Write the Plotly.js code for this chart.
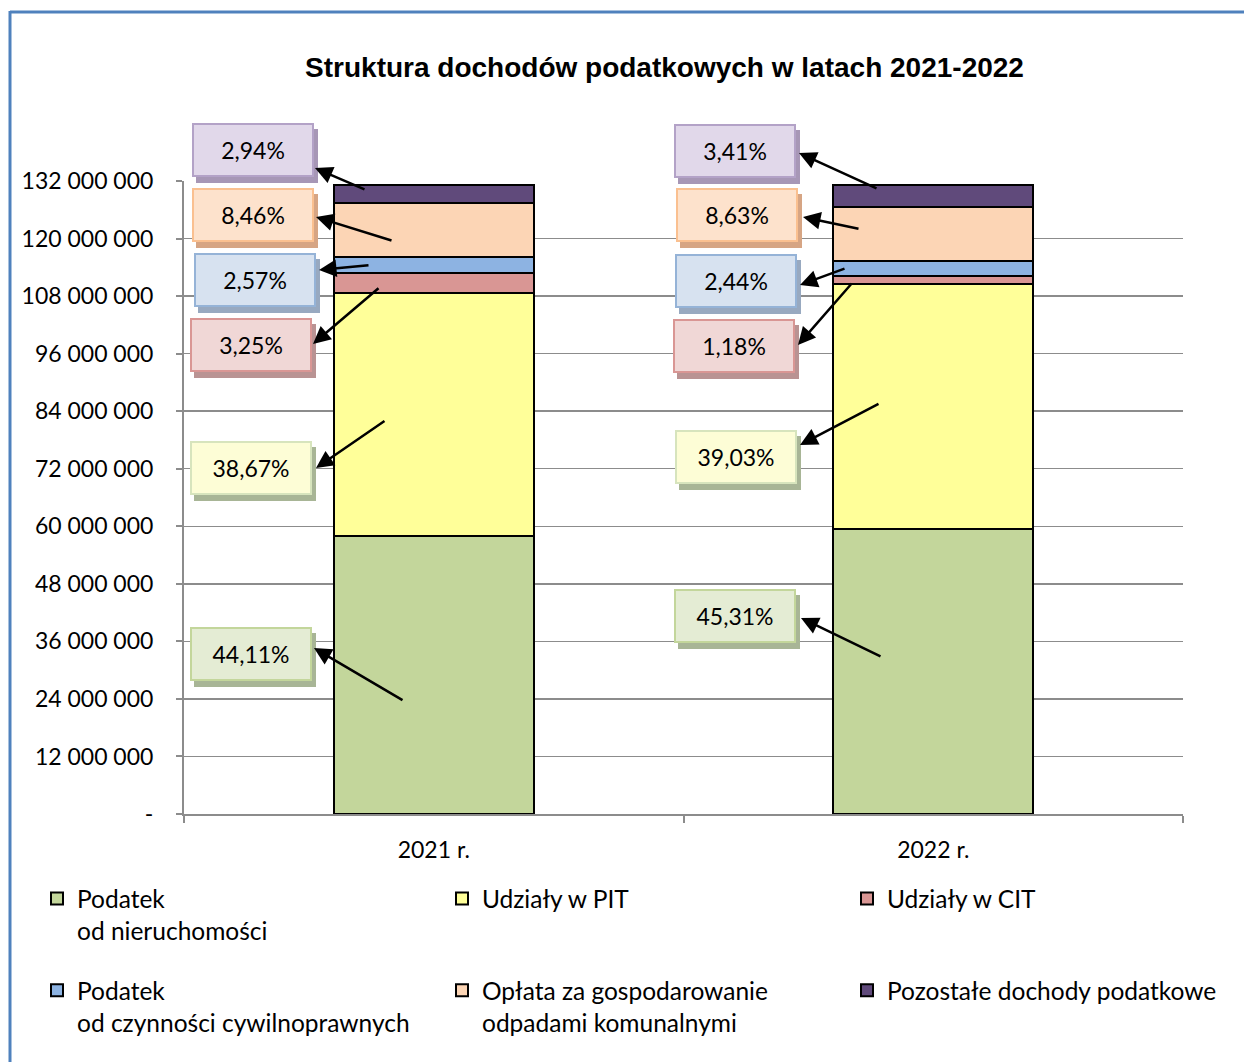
<!DOCTYPE html>
<html>
<head>
<meta charset="utf-8">
<script src="https://cdn.plot.ly/plotly-3.0.1.min.js"></script>
<style>html,body{margin:0;padding:0;background:#fff;}#chart{width:1244px;height:1062px;}</style>
</head>
<body>
<div id="chart"></div>
<script>
// ---- data ----
const categories = ['2021 r.', '2022 r.'];
const seriesNames = [
  'Podatek<br>od nieruchomości',
  'Udziały w PIT',
  'Udziały w CIT',
  'Podatek<br>od czynności cywilnoprawnych',
  'Opłata za gospodarowanie<br>odpadami komunalnymi',
  'Pozostałe dochody podatkowe'
];
const podatekNieruchomosci = [57870000, 59400000];
const udzialyPIT = [50730000, 51170000];
const udzialyCIT = [4265000, 1547000];
const podatekCzynnosci = [3372000, 3199000];
const oplataOdpady = [11100000, 11314000];
const pozostale = [3857000, 4470000];
const pct2021 = ['44,11%', '38,67%', '3,25%', '2,57%', '8,46%', '2,94%'];
const pct2022 = ['45,31%', '39,03%', '1,18%', '2,44%', '8,63%', '3,41%'];
const yTickVals = [0, 12000000, 24000000, 36000000, 48000000, 60000000, 72000000, 84000000, 96000000, 108000000, 120000000, 132000000];
const yTickText = ['-', '12 000 000', '24 000 000', '36 000 000', '48 000 000', '60 000 000', '72 000 000', '84 000 000', '96 000 000', '108 000 000', '120 000 000', '132 000 000'];

// ---- styles ----
const barColors = ['#C3D69B', '#FFFF99', '#D99694', '#8DB3E2', '#FCD5B5', '#604A7B'];
const boxFill = ['#E4ECD4', '#FDFDD6', '#F0D7D6', '#D7E2F0', '#FDE2CC', '#E1D8EA'];
const boxBorder = ['#C3D69B', '#D7E4BD', '#D99694', '#95B3D7', '#FAC090', '#B3A2C7'];
const boxShadow = ['#A8B596', '#A8B596', '#B99393', '#98A9C0', '#D6A584', '#A797B6'];
const legendOf = ['legend', 'legend2', 'legend3', 'legend', 'legend2', 'legend3'];

const allSeries = [podatekNieruchomosci, udzialyPIT, udzialyCIT, podatekCzynnosci, oplataOdpady, pozostale];
const FONT = 'Lato, "Open Sans", sans-serif';

const traces = allSeries.map((vals, i) => ({
  type: 'bar',
  name: seriesNames[i],
  x: categories,
  y: vals,
  legend: legendOf[i],
  legendgroup: 'g' + i,
  marker: {color: barColors[i], line: {color: '#000000', width: 2}},
  hoverinfo: 'none'
}));

// pixel -> paper helpers (plot area: x 184..1183, y 181..814)
const L = 184, R = 1183, T = 181, B = 814;
const px = x => (x - L) / (R - L);
const py = y => (B - y) / (B - T);

// label boxes: [centerX, centerY] per series
const boxPos2021 = [[251, 654], [251, 468], [251, 345], [255, 280], [253, 215], [253, 150]];
const boxPos2022 = [[735, 616], [736, 457], [734, 346], [736, 281], [737, 215], [735, 151]];
// arrows: [tailX, tailY, headX, headY]
const arr2021 = [[404, 701, 314, 648], [386, 420, 316, 468], [380, 287, 313, 344], [370, 265, 319, 270], [393, 241, 316, 217], [366, 190, 315, 168]];
const arr2022 = [[882, 657, 801, 618], [880, 403, 800, 445], [853, 282, 798, 345], [846, 268, 800, 285], [860, 229, 803, 217], [878, 189, 799, 153]];

const BW = 122, BH = 54;
const shapes = [];
const annotations = [];

function addBox(cx, cy, txt, i) {
  shapes.push({
    type: 'rect', xref: 'paper', yref: 'paper', layer: 'above',
    x0: px(cx - BW / 2 + 4), x1: px(cx + BW / 2 + 4),
    y0: py(cy + BH / 2 + 6), y1: py(cy - BH / 2 + 6),
    fillcolor: boxShadow[i], line: {width: 0}
  });
  annotations.push({
    xref: 'paper', yref: 'paper', x: px(cx), y: py(cy),
    xanchor: 'center', yanchor: 'middle',
    text: txt, showarrow: false,
    width: BW - 4, height: BH - 4, borderpad: 0,
    bgcolor: boxFill[i], bordercolor: boxBorder[i], borderwidth: 2,
    font: {family: FONT, size: 23, color: '#000'}
  });
}
function addArrow(a) {
  annotations.push({
    xref: 'paper', yref: 'paper', x: px(a[2]), y: py(a[3]),
    ax: a[0] - a[2], ay: a[1] - a[3],
    text: '', showarrow: true, arrowhead: 2, arrowsize: 1.4, arrowwidth: 2.5,
    arrowcolor: '#000', standoff: 0, startstandoff: 0
  });
}
for (let i = 0; i < 6; i++) {
  addBox(boxPos2021[i][0], boxPos2021[i][1], pct2021[i], i);
  addBox(boxPos2022[i][0], boxPos2022[i][1], pct2022[i], i);
}
for (let i = 0; i < 6; i++) { addArrow(arr2021[i]); addArrow(arr2022[i]); }

// page frame (blue border top and left)
shapes.push({type: 'line', xref: 'paper', yref: 'paper', x0: px(10), x1: px(1250), y0: py(12), y1: py(12), line: {color: '#4F81BD', width: 3}, layer: 'above'});
shapes.push({type: 'line', xref: 'paper', yref: 'paper', x0: px(10), x1: px(10), y0: py(11), y1: py(1070), line: {color: '#4F81BD', width: 3}, layer: 'above'});

const legFont = {family: FONT, size: 24.5, color: '#000'};
function legendAt(xpx, gap) {
  return {
    orientation: 'v', traceorder: 'grouped', tracegroupgap: gap,
    x: px(xpx), xanchor: 'left', y: py(876), yanchor: 'top',
    valign: 'top', font: legFont, bgcolor: 'rgba(0,0,0,0)', borderwidth: 0
  };
}

const layout = {
  width: 1244, height: 1062,
  margin: {l: L, r: 1244 - R, t: T, b: 1062 - B, autoexpand: false},
  paper_bgcolor: '#fff', plot_bgcolor: '#fff',
  barmode: 'stack', bargap: 0.6,
  showlegend: true,
  title: {
    text: '<b>Struktura dochodów podatkowych w latach 2021-2022</b>',
    font: {family: 'Liberation Sans, Arial, sans-serif', size: 28, color: '#000'},
    x: 664.5 / 1244, xanchor: 'center', xref: 'container',
    y: 1 - 67 / 1062, yanchor: 'middle', yref: 'container'
  },
  xaxis: {
    type: 'category',
    showline: true, linecolor: '#8C8C8C', linewidth: 2,
    ticks: 'outside', tickson: 'boundaries', ticklen: 7, tickwidth: 2, tickcolor: '#8C8C8C',
    tickfont: {family: FONT, size: 23, color: '#000'},
    ticklabelstandoff: 14,
    showgrid: false, zeroline: false, fixedrange: true
  },
  yaxis: {
    range: [0, 132000000],
    tickvals: yTickVals, ticktext: yTickText,
    showline: true, linecolor: '#8C8C8C', linewidth: 2,
    ticks: 'outside', ticklen: 6, tickwidth: 2, tickcolor: '#8C8C8C',
    showgrid: true, gridcolor: '#8C8C8C', gridwidth: 1.5,
    zeroline: false,
    tickfont: {family: FONT, size: 23, color: '#000'},
    ticklabelstandoff: 18, fixedrange: true
  },
  legend: legendAt(37, 25),
  legend2: legendAt(442, 57),
  legend3: legendAt(847, 57),
  shapes: shapes,
  annotations: annotations
};

Plotly.newPlot('chart', traces, layout, {displayModeBar: false, staticPlot: true});
</script>
</body>
</html>
